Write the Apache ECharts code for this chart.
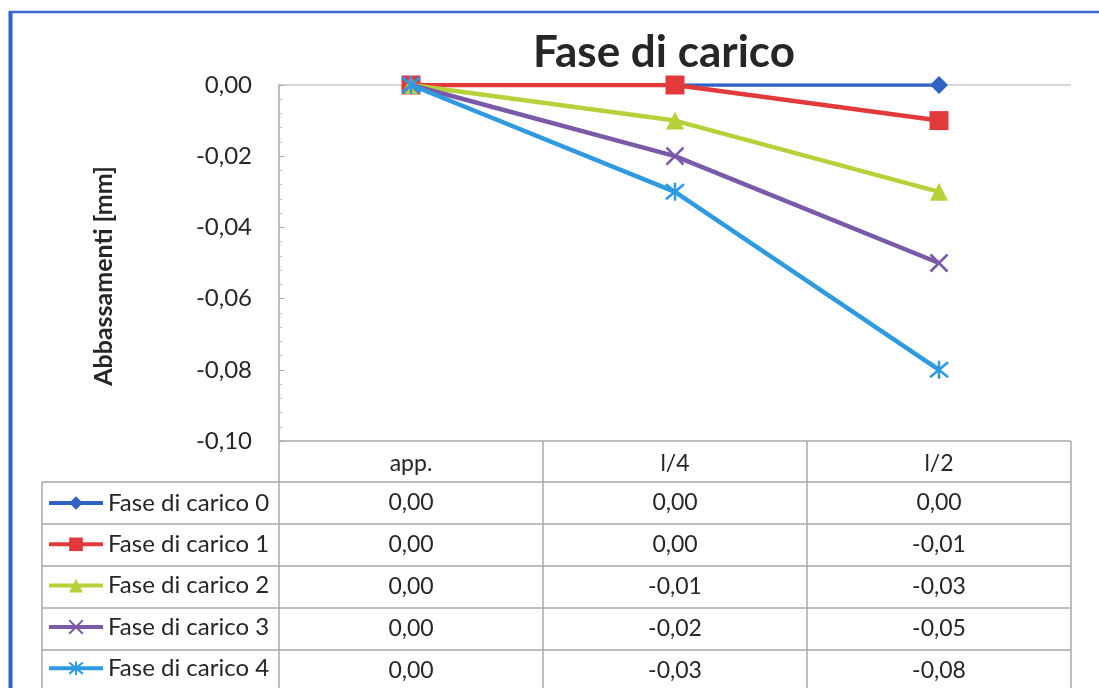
<!DOCTYPE html>
<html>
<head>
<meta charset="utf-8">
<script src="https://cdn.jsdelivr.net/npm/echarts@6/dist/echarts.min.js"></script>
<style>
  html, body { margin: 0; padding: 0; background: #ffffff; }
  #chart { width: 1099px; height: 688px; }
</style>
</head>
<body>
<div id="chart"></div>
<script>
// Measuring points along the beam
const categories = ['app.', 'l/4', 'l/2'];

// Deflection per load phase [mm]
const seriesNames = ['Fase di carico 0', 'Fase di carico 1', 'Fase di carico 2', 'Fase di carico 3', 'Fase di carico 4'];
const fase0 = [0.00, 0.00, 0.00];
const fase1 = [0.00, 0.00, -0.01];
const fase2 = [0.00, -0.01, -0.03];
const fase3 = [0.00, -0.02, -0.05];
const fase4 = [0.00, -0.03, -0.08];
const seriesValues = [fase0, fase1, fase2, fase3, fase4];

// Value axis range and step
const yMin = -0.10;
const yMax = 0.00;
const yStep = 0.02;

const FONT = 'Lato, "Open Sans", sans-serif';
const TEXT = '#262626';
const GRID_LINE = '#a8a8a8';

const fmt = v => (Math.abs(v) < 1e-9 ? 0 : v).toFixed(2).replace('.', ',');

const styles = [
  { color: '#2f62c4', width: 3.5, symbol: 'diamond', size: 18, border: 0 },
  { color: '#e23a3a', width: 4.5, symbol: 'rect', size: 19, border: 0 },
  { color: '#b6d23a', width: 4.5, symbol: 'triangle', size: 18, border: 0 },
  { color: '#7a5aa8', width: 4.5, symbol: 'path://M0,0L10,10M10,0L0,10', size: 17, border: 2.5 },
  { color: '#2f9ae0', width: 4.5, symbol: 'path://M0,0L10,10M10,0L0,10M5,-1L5,11', size: 18, border: 2.5 }
];

const chart = echarts.init(document.getElementById('chart'), null, { renderer: 'canvas' });

const option = {
  animation: false,
  backgroundColor: '#ffffff',
  textStyle: { fontFamily: FONT },
  title: {
    text: 'Fase di carico',
    left: 664,
    textAlign: 'center',
    top: 31,
    padding: 0,
    textStyle: { fontFamily: FONT, fontSize: 44, fontWeight: 'bold', color: TEXT }
  },
  grid: { left: 279, right: 28, top: 85, bottom: 247, containLabel: false },
  legend: {
    orient: 'vertical',
    left: 47,
    top: 491,
    height: 260,
    padding: 0,
    itemWidth: 54,
    itemHeight: 17,
    itemGap: 17.3,
    selectedMode: false,
    data: seriesNames,
    lineStyle: { width: 4 },
    textStyle: { fontFamily: FONT, fontSize: 24, color: TEXT }
  },
  xAxis: {
    type: 'category',
    data: categories,
    position: 'bottom',
    axisLine: { show: false },
    axisTick: { show: false },
    splitLine: { show: false },
    axisLabel: { fontFamily: FONT, fontSize: 23, color: TEXT, margin: 11 }
  },
  yAxis: {
    type: 'value',
    min: yMin,
    max: yMax,
    interval: yStep,
    name: 'Abbassamenti [mm]',
    nameLocation: 'middle',
    nameRotate: 90,
    nameGap: 163,
    nameTextStyle: { fontFamily: FONT, fontSize: 25, fontWeight: 'bold', color: TEXT, padding: [0, 26, 0, 0] },
    axisLine: { show: true, lineStyle: { color: GRID_LINE, width: 1.5 } },
    axisTick: { show: true, inside: true, length: 5, lineStyle: { color: GRID_LINE } },
    minorTick: { show: true, splitNumber: 5, length: 3, lineStyle: { color: '#bdbdbd' } },
    axisLabel: { fontFamily: FONT, fontSize: 24, color: TEXT, margin: 27, formatter: fmt },
    splitLine: {
      show: true,
      lineStyle: {
        color: [GRID_LINE, 'rgba(0,0,0,0)', 'rgba(0,0,0,0)', 'rgba(0,0,0,0)', 'rgba(0,0,0,0)', '#c8c8c8'],
        width: 1.5
      }
    }
  },
  series: seriesNames.map((name, i) => ({
    name,
    type: 'line',
    data: seriesValues[i],
    symbol: styles[i].symbol,
    symbolSize: styles[i].size,
    lineStyle: { color: styles[i].color, width: styles[i].width },
    itemStyle: { color: styles[i].color, borderColor: styles[i].color, borderWidth: styles[i].border },
    emphasis: { disabled: true },
    z: 3 + i
  }))
};

chart.setOption(option);

// Data table under the plot, laid out on the category axis bands
const cx = categories.map(c => chart.convertToPixel({ xAxisIndex: 0 }, c));
const band = cx[1] - cx[0];
const colEdges = [cx[0] - band / 2].concat(cx.map(x => x + band / 2));
const tableTop = chart.convertToPixel({ yAxisIndex: 0 }, yMin);
const headerBottom = 482;
const rowH = 42;
const legendLeft = 42;
const tableBottom = 700;

const lineEl = (x1, y1, x2, y2, color, width) => ({
  type: 'line',
  shape: { x1, y1, x2, y2 },
  style: { stroke: color, lineWidth: width },
  silent: true
});

const graphics = [];
// horizontal rules
for (let r = 0; r <= seriesNames.length - 1; r++) {
  const y = headerBottom + r * rowH;
  graphics.push(lineEl(legendLeft, y, colEdges[colEdges.length - 1], y, GRID_LINE, 1.5));
}
// vertical rules
colEdges.forEach(x => graphics.push(lineEl(x, tableTop, x, tableBottom, GRID_LINE, 1.5)));
graphics.push(lineEl(legendLeft, headerBottom, legendLeft, tableBottom, GRID_LINE, 1.5));

// values
seriesValues.forEach((vals, r) => {
  const yc = headerBottom + r * rowH + rowH / 2;
  vals.forEach((v, j) => {
    graphics.push({
      type: 'text',
      x: cx[j],
      y: yc,
      silent: true,
      style: { text: fmt(v), fill: TEXT, font: '23px ' + FONT, align: 'center', verticalAlign: 'middle' }
    });
  });
});

// outer frame
graphics.push(lineEl(10.5, 11, 10.5, 700, '#2f63c6', 4));
graphics.push(lineEl(9, 12, 1110, 12, '#3a6cc9', 2.5));

chart.setOption({ graphic: graphics });
</script>
</body>
</html>
